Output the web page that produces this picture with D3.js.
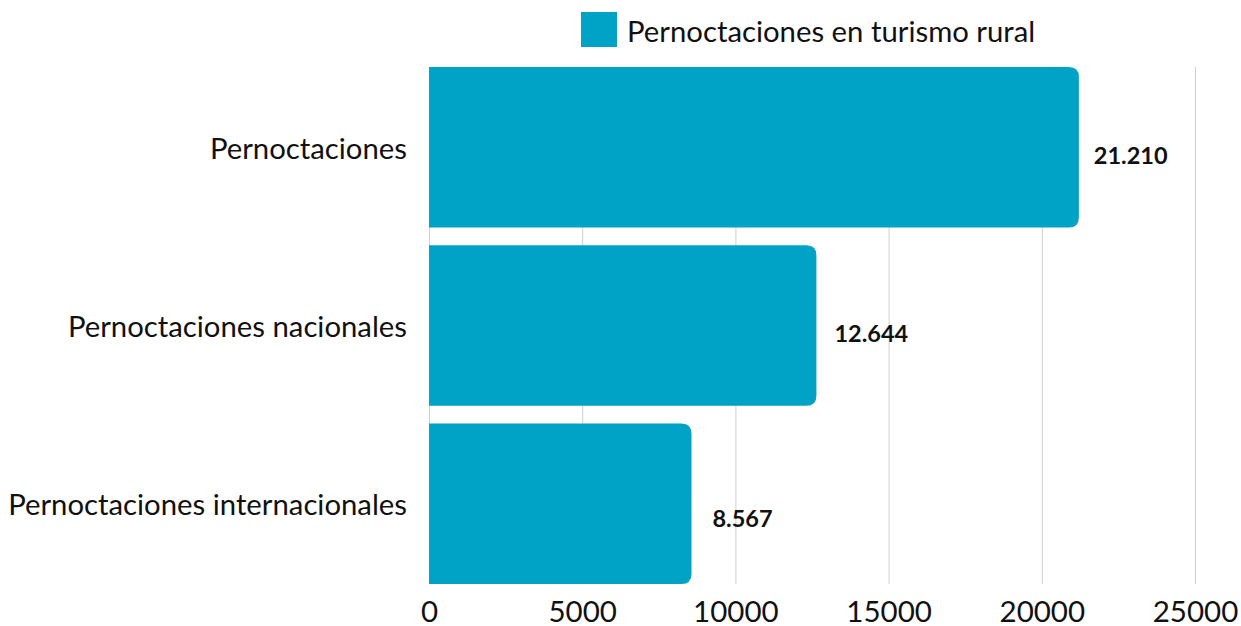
<!DOCTYPE html>
<html>
<head>
<meta charset="utf-8">
<script src="https://cdn.jsdelivr.net/npm/d3@7"></script>
<style>
  body { margin: 0; background: #fff; }
  text { font-family: Lato, "Open Sans", sans-serif; fill: #111; }
</style>
</head>
<body>
<svg id="chart" width="1241" height="626"></svg>
<script>
// Data.
let categories = ["Pernoctaciones", "Pernoctaciones nacionales", "Pernoctaciones internacionales"];
let values = [21210, 12644, 8567];
let valueLabels = ["21.210", "12.644", "8.567"];
let ticks = [0, 5000, 10000, 15000, 20000, 25000];
let seriesName = "Pernoctaciones en turismo rural";

let color = "#00a2c6";
let svg = d3.select("#chart");

let margin = {left: 429, right: 46, top: 67, bottom: 42};
let width = 1241, height = 626;

let x = d3.scaleLinear()
  .domain([0, 25000])
  .range([margin.left, width - margin.right]);

let y = d3.scaleBand()
  .domain(categories)
  .range([margin.top - 9, height - margin.bottom + 9])
  .paddingInner(0.1)
  .paddingOuter(0.05);

// Gridlines.
svg.append("g")
  .selectAll("line")
  .data(ticks)
  .enter()
  .append("line")
    .attr("x1", d=>x(d) + 0.5)
    .attr("x2", d=>x(d) + 0.5)
    .attr("y1", margin.top)
    .attr("y2", height - margin.bottom)
    .attr("stroke", "#cfcfcf")
    .attr("stroke-width", 1);

// Bars with rounded right end.
function barPath(x0, x1, y0, h, r){
  r = Math.min(r, (x1 - x0), h/2);
  return `M${x0},${y0} H${x1 - r} Q${x1},${y0} ${x1},${y0 + r} V${y0 + h - r} Q${x1},${y0 + h} ${x1 - r},${y0 + h} H${x0} Z`;
} // barPath

let rows = categories.map((c, i)=>({cat: c, value: values[i], label: valueLabels[i]}));

svg.append("g")
  .selectAll("path")
  .data(rows)
  .enter()
  .append("path")
    .attr("d", d=>barPath(x(0), x(d.value), y(d.cat), y.bandwidth(), 10))
    .attr("fill", color);

// Value labels (the original places them slightly differently per bar).
let labelDx = [15, 18, 21];
let labelDy = [8, 7, 14];
svg.append("g")
  .selectAll("text")
  .data(rows)
  .enter()
  .append("text")
    .attr("x", (d, i)=>x(d.value) + labelDx[i])
    .attr("y", (d, i)=>y(d.cat) + y.bandwidth()/2 + labelDy[i])
    .attr("dominant-baseline", "central")
    .style("font-size", "23.5px")
    .style("font-weight", "bold")
    .text(d=>d.label);

// Category labels.
svg.append("g")
  .selectAll("text")
  .data(categories)
  .enter()
  .append("text")
    .attr("x", margin.left - 22)
    .attr("y", d=>y(d) + y.bandwidth()/2)
    .attr("text-anchor", "end")
    .attr("dominant-baseline", "central")
    .style("font-size", "29.3px")
    .text(d=>d);

// X axis tick labels.
let xaxis = svg.append("g")
  .attr("transform", `translate(0,${height - margin.bottom})`)
  .call(d3.axisBottom(x).tickValues(ticks).tickFormat(d3.format("d")).tickSize(0));
xaxis.select(".domain").remove();
xaxis.selectAll("text")
  .attr("y", 38)
  .attr("dy", null)
  .style("font-size", "29.5px")
  .style("font-family", "Lato, sans-serif")
  .attr("fill", "#111");

// Legend.
let legend = svg.append("g").attr("transform", "translate(581,12)");
legend.append("rect")
  .attr("width", 36)
  .attr("height", 35)
  .attr("fill", color);
legend.append("text")
  .attr("x", 46)
  .attr("y", 18)
  .attr("dominant-baseline", "central")
  .style("font-size", "29.3px")
  .text(seriesName);
</script>
</body>
</html>
